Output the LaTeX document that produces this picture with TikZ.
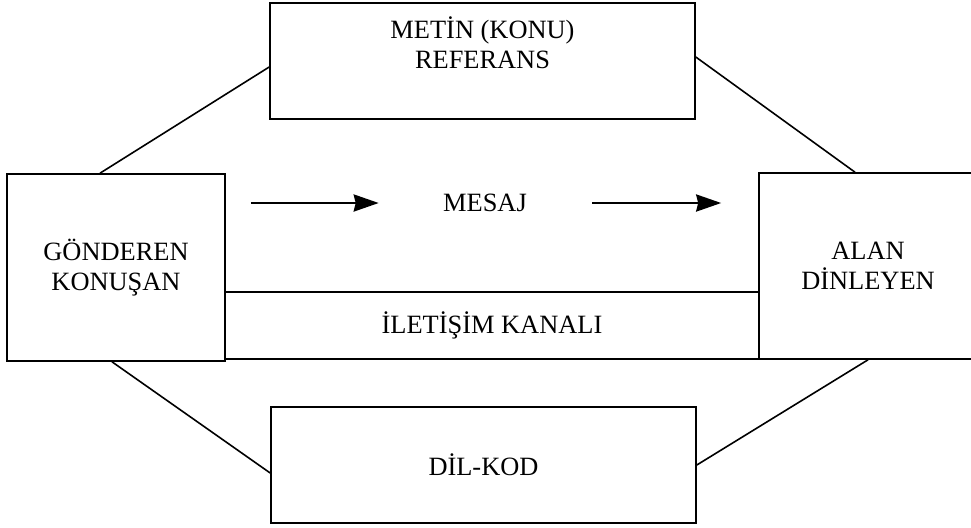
\documentclass[tikz,border=0pt]{standalone}
\usepackage{fontspec}
\setmainfont{Liberation Serif}
\usetikzlibrary{arrows.meta}

\begin{document}
\begin{tikzpicture}[x=0.5pt, y=-0.5pt, line width=0.8pt,
        font=\fontsize{13.2}{15}\selectfont,
        box/.style={draw, align=center, inner sep=0pt},
        message/.style={line width=1.3pt, -{Stealth[length=12.5pt, width=8.5pt, inset=1pt]}}]
        \useasboundingbox (0,0) rectangle (971,527);
        \node[box, minimum width=109pt, minimum height=93.5pt] (gonderen) at (116,267.5) {GÖNDEREN\\KONUŞAN};
        \node[box, minimum width=109pt, minimum height=93pt] (alan) at (868,266) {ALAN\\DİNLEYEN};
        \node[box, minimum width=212.5pt, minimum height=58pt] (metin) at (482.5,61) {METİN (KONU)\\REFERANS\\[3pt]\mbox{}};
        \node[box, minimum width=212.5pt, minimum height=58pt] (dil) at (483.5,465) {DİL-KOD};
        \node[box, minimum width=267pt, minimum height=33.5pt] (kanal) at (492,325.5) {İLETİŞİM KANALI};
        \node (mesaj) at (485,203) {MESAJ};

        \draw ([xshift=-8pt]gonderen.north) -- ([yshift=-3pt]metin.west);
        \draw ([yshift=2pt]metin.east) -- ([xshift=-6.5pt]alan.north);
        \draw ([xshift=-2pt]gonderen.south) -- ([yshift=-4pt]dil.west);
        \draw (dil.east) -- (alan.south);
        \draw[message] ([xshift=12.5pt]gonderen.east |- mesaj) -- ([xshift=-28.5pt]mesaj.west);
        \draw[message] ([xshift=29pt]mesaj.east) -- ([xshift=-18.5pt]alan.west |- mesaj);
    \end{tikzpicture}
\end{document}
